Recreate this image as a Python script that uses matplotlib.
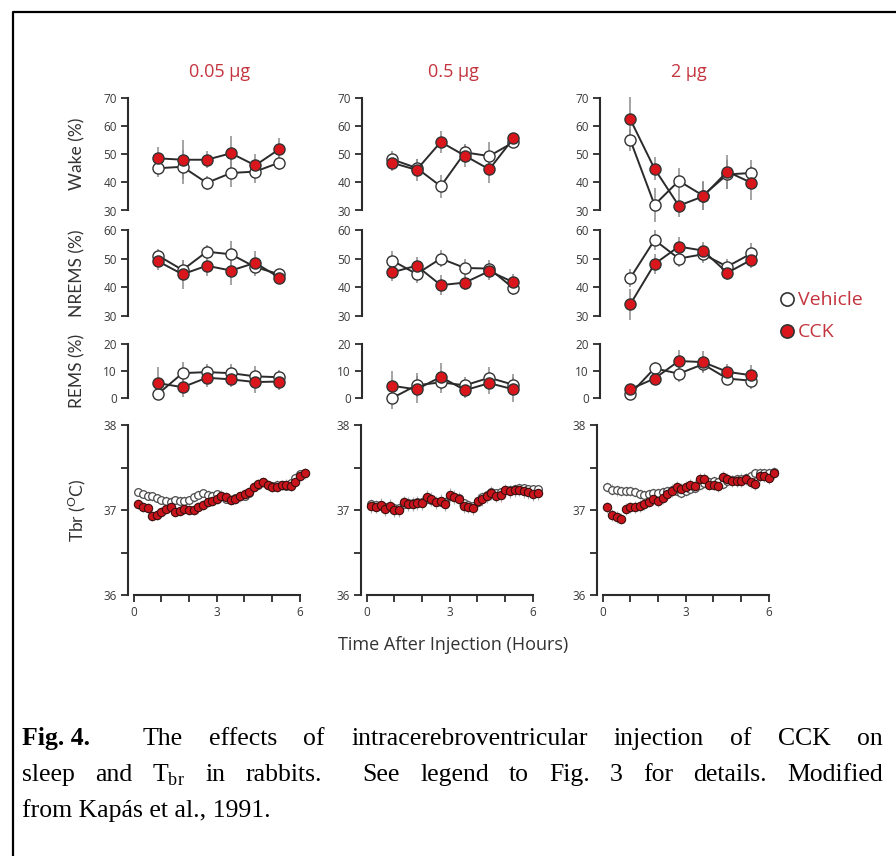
import matplotlib
matplotlib.use("Agg")
import matplotlib.pyplot as plt
import numpy as np
from matplotlib.lines import Line2D

plt.rcParams['font.family'] = ['Open Sans', 'DejaVu Sans']

W, H = 896, 856
RED = '#d8161c'
TXT_RED = '#c4343e'
DARK = '#2b2b2b'
GREY = '#8c8c8c'

doses = ['0.05 µg', '0.5 µg', '2 µg']
sleep_hours = np.arange(1, 7)
tbr_hours = np.arange(37) / 6 + 0.17

# sleep states, one list per dose: mean and SEM
wake_vehicle = [[45.0, 45.5, 39.8, 43.3, 43.8, 47.0],
                [48.1, 45.1, 38.6, 50.6, 49.3, 54.2],
                [55.0, 32.0, 40.5, 35.3, 42.8, 43.3]]
wake_vehicle_err = [[3, 6, 2.5, 5, 4, 2.5],
                    [3, 3, 4, 3, 5, 2],
                    [4, 6, 4.5, 5, 5, 4.5]]
wake_cck = [[48.5, 48.0, 48.0, 50.3, 46.0, 51.8],
            [46.9, 44.4, 54.3, 49.4, 44.6, 55.6],
            [62.3, 44.8, 31.7, 35.0, 43.8, 39.8]]
wake_cck_err = [[4, 7, 3, 6, 4, 4],
                [3, 4, 4, 4, 5, 2],
                [8, 4, 4, 5, 6, 6]]

nrems_vehicle = [[51.0, 46.0, 52.4, 51.5, 47.0, 44.5],
                 [49.3, 44.6, 50.0, 46.7, 46.5, 39.6],
                 [43.2, 56.5, 50.0, 51.5, 47.2, 51.8]]
nrems_vehicle_err = [[2.5, 3.5, 2.5, 4.5, 3, 2],
                     [3.5, 3, 3, 3, 3, 2.5],
                     [3, 3.5, 3, 3, 2.5, 3.5]]
nrems_cck = [[49.0, 44.5, 47.5, 45.8, 48.5, 43.3],
             [45.2, 47.5, 40.7, 41.6, 45.6, 41.7],
             [34.0, 48.1, 54.2, 52.8, 45.0, 49.6]]
nrems_cck_err = [[3, 5, 3.5, 5, 4, 2],
                 [3, 3, 3.5, 2.5, 3, 3],
                 [5.5, 3.5, 3.5, 3, 2.5, 3]]

rems_vehicle = [[1.6, 9.2, 9.6, 9.2, 8.0, 7.7],
                [0.0, 4.7, 5.8, 4.7, 7.5, 4.9],
                [1.5, 11.0, 9.0, 12.5, 7.2, 6.4]]
rems_vehicle_err = [[2.5, 4, 3, 3.5, 4, 2.5],
                    [4, 4.5, 4, 3, 4, 4],
                    [1, 2.5, 3, 3, 2.5, 3]]
rems_cck = [[5.5, 4.0, 7.5, 6.9, 5.9, 6.1],
            [4.5, 3.2, 7.8, 2.9, 5.5, 3.2],
            [3.3, 7.2, 13.7, 13.3, 9.7, 8.4]]
rems_cck_err = [[6, 3.5, 3.5, 3, 4, 3],
                [5.5, 5, 5, 3, 4, 4.5],
                [2, 2.5, 4, 4, 3, 4]]

# brain temperature, 10-min means
tbr_vehicle = [
    [37.21, 37.19, 37.17, 37.16, 37.14, 37.12, 37.11, 37.10, 37.12, 37.11,
     37.11, 37.12, 37.15, 37.18, 37.20, 37.18, 37.17, 37.19, 37.17, 37.13,
     37.12, 37.14, 37.16, 37.17, 37.20, 37.27, 37.30, 37.33, 37.30, 37.28,
     37.30, 37.29, 37.28, 37.32, 37.38, 37.42, 37.44],
    [37.07, 37.06, 37.05, 37.03, 37.04, 37.02, 37.02, 37.07, 37.08, 37.08,
     37.09, 37.10, 37.13, 37.12, 37.10, 37.10, 37.09, 37.16, 37.15, 37.14,
     37.08, 37.06, 37.05, 37.10, 37.15, 37.18, 37.21, 37.20, 37.21, 37.24,
     37.24, 37.25, 37.26, 37.26, 37.25, 37.25, 37.25],
    [37.27, 37.24, 37.23, 37.22, 37.22, 37.22, 37.21, 37.19, 37.18, 37.19,
     37.20, 37.20, 37.21, 37.22, 37.24, 37.22, 37.20, 37.22, 37.25, 37.26,
     37.30, 37.32, 37.33, 37.34, 37.33, 37.31, 37.34, 37.35, 37.36, 37.37,
     37.38, 37.40, 37.43, 37.44, 37.44, 37.44, 37.45]]
tbr_cck = [
    [37.07, 37.04, 37.02, 36.93, 36.94, 36.98, 37.01, 37.03, 36.98, 36.99,
     37.01, 37.00, 37.00, 37.03, 37.06, 37.09, 37.11, 37.13, 37.17, 37.15,
     37.12, 37.13, 37.16, 37.19, 37.21, 37.27, 37.31, 37.33, 37.29, 37.27,
     37.27, 37.29, 37.30, 37.28, 37.33, 37.40, 37.43],
    [37.05, 37.04, 37.06, 37.01, 37.05, 37.00, 37.00, 37.09, 37.07, 37.07,
     37.08, 37.08, 37.15, 37.13, 37.09, 37.11, 37.07, 37.18, 37.15, 37.13,
     37.05, 37.04, 37.02, 37.11, 37.13, 37.16, 37.20, 37.17, 37.18, 37.23,
     37.22, 37.23, 37.24, 37.22, 37.21, 37.19, 37.20],
    [37.03, 36.94, 36.92, 36.90, 37.01, 37.03, 37.04, 37.05, 37.07, 37.10,
     37.13, 37.11, 37.14, 37.19, 37.22, 37.27, 37.25, 37.27, 37.30, 37.28,
     37.37, 37.37, 37.30, 37.30, 37.28, 37.39, 37.36, 37.34, 37.34, 37.34,
     37.37, 37.33, 37.31, 37.40, 37.40, 37.38, 37.44]]
tbr_vehicle_err = [0.05, 0.05, 0.06]
tbr_cck_err = [0.06, 0.08, 0.07]

fig = plt.figure(figsize=(W / 100, H / 100), dpi=100)


def px_axes(left, top, width, bottom):
    return fig.add_axes([left / W, 1 - bottom / H, width / W, (bottom - top) / H])


def style_axis(ax, lo, hi, step):
    for s in ['top', 'right', 'bottom']:
        ax.spines[s].set_visible(False)
    ax.spines['left'].set_bounds(lo, hi)
    ax.spines['left'].set_color(DARK)
    ax.spines['left'].set_linewidth(1.5)
    ax.set_ylim(lo, hi)
    ax.set_yticks(np.arange(lo, hi + 0.1, step))
    ax.tick_params(axis='y', direction='out', length=5, width=1.3, color=DARK,
                   labelsize=8.5, labelcolor='#3a3a3a', pad=3)
    ax.set_xticks([])
    ax.patch.set_visible(False)


def sleep_panel(ax, veh, veh_err, cck, cck_err):
    ax.errorbar(sleep_hours, veh, yerr=veh_err, fmt='none', ecolor=GREY,
                elinewidth=1.1, zorder=1)
    ax.errorbar(sleep_hours, cck, yerr=cck_err, fmt='none', ecolor=GREY,
                elinewidth=1.1, zorder=1)
    ax.plot(sleep_hours, veh, '-o', color=DARK, lw=1.4, ms=8, mfc='white',
            mec='#333333', mew=1.0, zorder=3)
    ax.plot(sleep_hours, cck, '-o', color=DARK, lw=1.4, ms=8, mfc=RED,
            mec='#333333', mew=1.0, zorder=4)
    for art in ax.get_children():
        art.set_clip_on(False)
    ax.set_xlim(-0.25, 7.3)


sleep_left = [128, 362, 600]
tbr_left = [128, 361, 597]
rows = [(97.7, 210.5), (230, 315.7), (344, 398)]

for c in range(3):
    ax = px_axes(sleep_left[c], rows[0][0], 183, rows[0][1])
    sleep_panel(ax, wake_vehicle[c], wake_vehicle_err[c], wake_cck[c], wake_cck_err[c])
    style_axis(ax, 30, 70, 10)

    ax = px_axes(sleep_left[c], rows[1][0], 183, rows[1][1])
    sleep_panel(ax, nrems_vehicle[c], nrems_vehicle_err[c], nrems_cck[c], nrems_cck_err[c])
    style_axis(ax, 30, 60, 10)

    ax = px_axes(sleep_left[c], rows[2][0], 183, rows[2][1])
    sleep_panel(ax, rems_vehicle[c], rems_vehicle_err[c], rems_cck[c], rems_cck_err[c])
    style_axis(ax, 0, 20, 10)

    # Tbr panel
    ax = px_axes(tbr_left[c], 425, 183, 595)
    ax.errorbar(tbr_hours, tbr_vehicle[c], yerr=tbr_vehicle_err[c], fmt='none',
                ecolor='#b0b0b0', elinewidth=0.8, zorder=1)
    ax.errorbar(tbr_hours, tbr_cck[c], yerr=tbr_cck_err[c], fmt='none',
                ecolor='#b0b0b0', elinewidth=0.8, zorder=1)
    ax.plot(tbr_hours, tbr_vehicle[c], 'o', ms=5.5, mfc='white', mec='#4a4a4a',
            mew=0.9, zorder=3)
    ax.plot(tbr_hours, tbr_cck[c], 'o', ms=6, mfc='#c8141a', mec='#3a1010',
            mew=0.8, zorder=4)
    style_axis(ax, 36, 38, 1)
    ax.set_yticks([36.5, 37.5], minor=True)
    ax.tick_params(axis='y', which='minor', direction='out', length=5,
                   width=1.3, color=DARK)
    ax.set_xlim(-0.2, 6.4)
    ax.spines['bottom'].set_visible(True)
    ax.spines['bottom'].set_bounds(0, 6)
    ax.spines['bottom'].set_color(DARK)
    ax.spines['bottom'].set_linewidth(1.5)
    ax.set_xticks([0, 3, 6])
    ax.set_xticks([1, 2, 4, 5], minor=True)
    ax.tick_params(axis='x', which='both', direction='out', length=5,
                   width=1.3, color=DARK, labelsize=8.5, labelcolor='#3a3a3a', pad=3)

    fig.text((tbr_left[c] + 92) / W, 1 - 72 / H, doses[c], color=TXT_RED,
             fontsize=13, ha='center', va='center')

# row labels
ylabels = ['Wake (%)', 'NREMS (%)', 'REMS (%)', r'Tbr ($^\mathregular{O}$C)']
centers = [(r[0] + r[1]) / 2 for r in rows] + [510]
for lab, yc in zip(ylabels, centers):
    fig.text(77 / W, 1 - yc / H, lab, rotation=90, ha='center', va='center',
             fontsize=12.5, color='#333333', family=['Lato', 'DejaVu Sans'])

fig.text(453 / W, 1 - 645 / H, 'Time After Injection (Hours)', ha='center',
         va='center', fontsize=13, color='#333333')

# legend
fig.add_artist(Line2D([787 / W], [1 - 299 / H], marker='o', ms=9.5, mfc='white',
                      mec='#333333', mew=1.2, ls='none'))
fig.add_artist(Line2D([787 / W], [1 - 331 / H], marker='o', ms=9.5, mfc=RED,
                      mec='#333333', mew=1.2, ls='none'))
fig.text(798 / W, 1 - 300 / H, 'Vehicle', color=TXT_RED, fontsize=14, va='center')
fig.text(798 / W, 1 - 332 / H, 'CCK', color=TXT_RED, fontsize=14, va='center')

# frame
fig.add_artist(Line2D([13 / W, 13 / W, 1], [0, 1 - 12 / H, 1 - 12 / H],
                      color='black', lw=1.6))

# caption, justified
fig.canvas.draw()
renderer = fig.canvas.get_renderer()
CAP = dict(fontsize=18.5, family='Liberation Serif', color='black', va='baseline')


def caption_line(words, gaps, y_px, x0=22, x1=883):
    items = [fig.text(0, 1 - y_px / H, w, weight=wt, **CAP) for w, wt in words]
    widths = [t.get_window_extent(renderer).width for t in items]
    unit = (x1 - x0 - sum(widths)) / sum(gaps)
    x = x0
    for i, t in enumerate(items):
        t.set_x(x / W)
        x += widths[i]
        if i < len(gaps):
            x += gaps[i] * unit


line1 = [('Fig. 4.', 'bold'), ('The', 'normal'), ('effects', 'normal'),
         ('of', 'normal'), ('intracerebroventricular', 'normal'),
         ('injection', 'normal'), ('of', 'normal'), ('CCK', 'normal'), ('on', 'normal')]
caption_line(line1, [2, 1, 1, 1, 1, 1, 1, 1], 745)

line2 = [(w, 'normal') for w in ['sleep', 'and', r'T$_\mathregular{br}$', 'in', 'rabbits.',
                                 'See', 'legend', 'to', 'Fig.', '3', 'for', 'details.',
                                 'Modified']]
caption_line(line2, [1, 1, 1, 1, 2, 1, 1, 1, 1, 1, 1, 1], 781)

fig.text(22 / W, 1 - 817 / H, 'from Kapás et al., 1991.', **CAP)

fig.savefig('out.png', dpi=100)
